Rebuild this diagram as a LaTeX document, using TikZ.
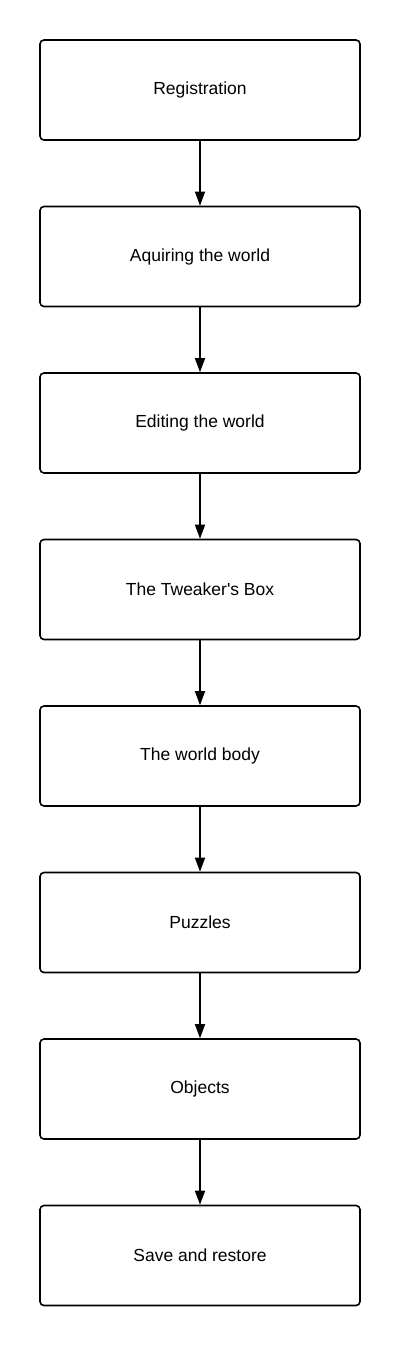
\documentclass[tikz,border=0pt]{standalone}
\usepackage{fontspec}
\setmainfont{Liberation Sans}
\usetikzlibrary{arrows.meta}

\begin{document}
\begin{tikzpicture}
[every node/.style={inner sep=0pt},
 stage/.style={rectangle, rounded corners=4pt, minimum width=320pt, minimum height=100pt, line width=1.6pt, draw=black, fill=white, font=\fontsize{17.5}{21}\selectfont},
 flow/.style={line width=1.5pt, -{Triangle[length=14pt, width=10pt]}, color=black}]
\useasboundingbox (0pt, 0pt) rectangle (401pt, -1345pt);
\node (1) [stage] at (200.0pt, -90.0pt) {Registration};
\node (2) [stage] at (200.0pt, -256.5pt) {Aquiring the world};
\node (3) [stage] at (200.0pt, -423.0pt) {Editing the world};
\node (4) [stage] at (200.0pt, -589.5pt) {The Tweaker\textquotesingle s Box};
\node (5) [stage] at (200.0pt, -756.0pt) {The world body};
\node (6) [stage] at (200.0pt, -922.5pt) {Puzzles};
\node (7) [stage] at (200.0pt, -1089.0pt) {Objects};
\node (8) [stage] at (200.0pt, -1255.5pt) {Save and restore};
\draw [flow] (1) to (2);
\draw [flow] (2) to (3);
\draw [flow] (3) to (4);
\draw [flow] (4) to (5);
\draw [flow] (5) to (6);
\draw [flow] (6) to (7);
\draw [flow] (7) to (8);

\end{tikzpicture}
\end{document}
